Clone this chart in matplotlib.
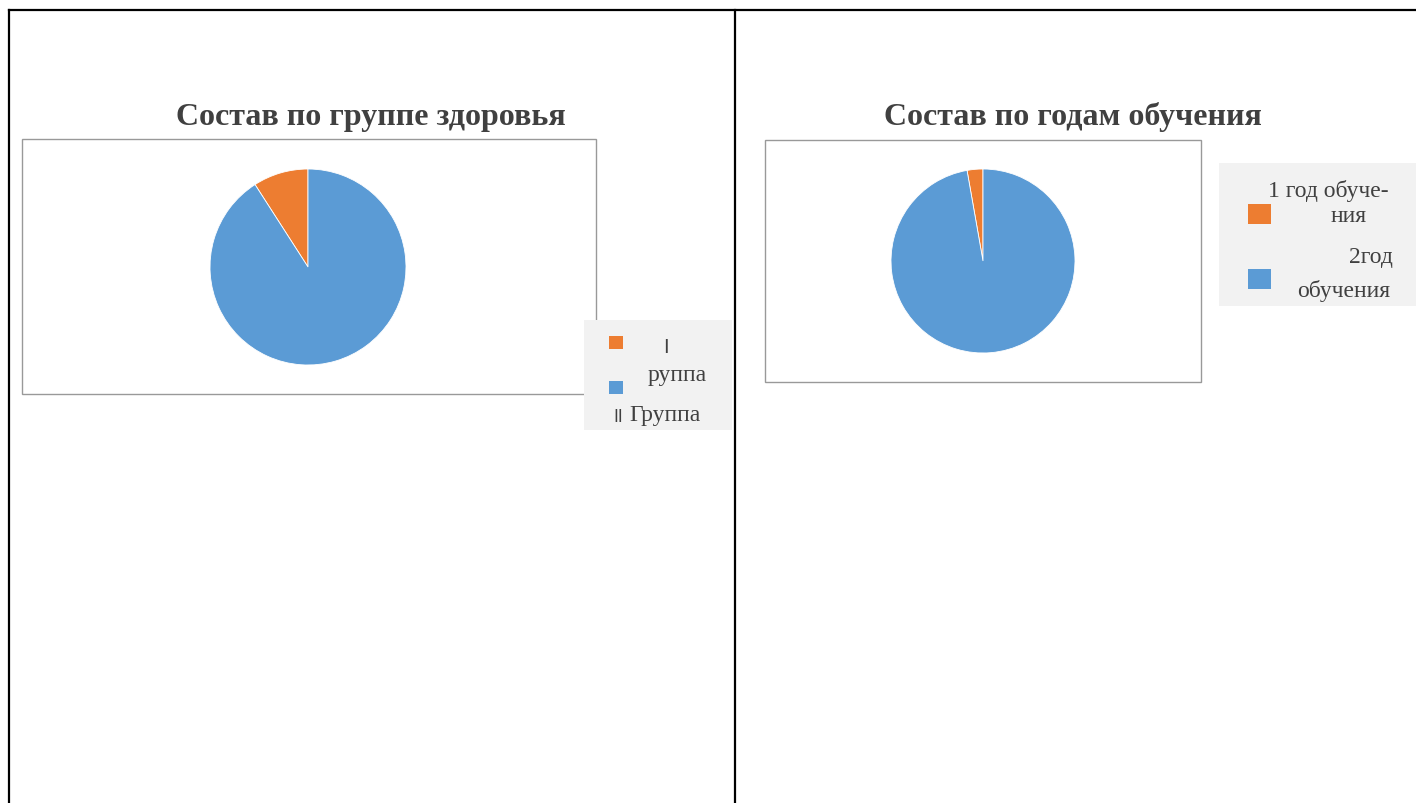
import matplotlib
matplotlib.use("Agg")
import matplotlib.pyplot as plt
from matplotlib.patches import Rectangle
from matplotlib.lines import Line2D

W, H = 1416, 804

# data
health_labels = ["I группа", "II Группа"]
health_values = [3, 30]
years_labels = ["1 год обучения", "2год обучения"]
years_values = [1, 35]
colors = ["#ED7D31", "#5B9BD5"]

title_left = "Состав по группе здоровья"
title_right = "Состав по годам обучения"

SERIF = "Liberation Serif"
TXT = "#404040"

fig = plt.figure(figsize=(W / 100, H / 100), dpi=100)


def fx(x):
    return x / W


def fy(y):
    return 1 - y / H


def box(x0, y0, x1, y1, **kw):
    fig.patches.append(Rectangle((fx(x0), fy(y1)), fx(x1) - fx(x0), fy(y0) - fy(y1),
                                 transform=fig.transFigure, zorder=0.5, **kw))


def pie_axes(cx, cy, r, values):
    ax = fig.add_axes([fx(cx - r), fy(cy + r), fx(2 * r), (2 * r) / H])
    ax.set_zorder(2)
    ax.pie(values, colors=colors, startangle=90, counterclock=True,
           wedgeprops=dict(linewidth=0.6, edgecolor="white"))
    ax.set_xlim(-1, 1)
    ax.set_ylim(-1, 1)
    ax.set_aspect("auto")
    ax.axis("off")
    return ax


# table borders
for (x0, y0, x1, y1) in [(9, 11, W, 11), (9, 11, 9, H), (735, 11, 735, H)]:
    fig.lines.append(Line2D([fx(x0), fx(x1)], [fy(y0), fy(y1)], color="black",
                            linewidth=1.6, transform=fig.transFigure))

# left chart
box(22, 140, 596, 395, facecolor="white", edgecolor="#999999", linewidth=1.0)
fig.text(fx(371), fy(117), title_left, ha="center", va="center", fontsize=23,
         fontweight="bold", family=SERIF, color=TXT)
pie_axes(308, 268, 98, health_values)

box(584, 321, 732, 431, facecolor="#F2F2F2", edgecolor="none")
box(609, 337, 623, 350, facecolor=colors[0], edgecolor="none")
box(609, 382, 623, 395, facecolor=colors[1], edgecolor="none")
lp1 = health_labels[0].split(" ")
fig.text(fx(666), fy(348), lp1[0], ha="center", va="center", fontsize=14,
         family="DejaVu Sans", color=TXT)
fig.text(fx(677), fy(376), lp1[1][1:], ha="center", va="center", fontsize=17,
         family=SERIF, color=TXT)
lp2 = health_labels[1].split(" ")
fig.text(fx(613), fy(417), lp2[0], ha="left", va="center", fontsize=12,
         family="DejaVu Sans", color=TXT)
fig.text(fx(629), fy(416), lp2[1], ha="left", va="center", fontsize=17,
         family=SERIF, color=TXT)

# right chart
box(765, 141, 1201, 383, facecolor="white", edgecolor="#999999", linewidth=1.0)
fig.text(fx(1073), fy(117), title_right, ha="center", va="center", fontsize=23,
         fontweight="bold", family=SERIF, color=TXT)
pie_axes(983, 262, 92, years_values)

box(1219, 164, W, 307, facecolor="#F2F2F2", edgecolor="none")
box(1248, 205, 1271, 225, facecolor=colors[0], edgecolor="none")
box(1248, 270, 1271, 290, facecolor=colors[1], edgecolor="none")
ry1 = years_labels[0].split(" ")
fig.text(fx(1389), fy(191), " ".join(ry1[:2]) + " " + ry1[2][:5] + "-",
         ha="right", va="center", fontsize=17, family=SERIF, color=TXT)
fig.text(fx(1367), fy(217), ry1[2][5:], ha="right", va="center", fontsize=17,
         family=SERIF, color=TXT)
ry2 = years_labels[1].split(" ")
fig.text(fx(1393), fy(258), ry2[0], ha="right", va="center", fontsize=17,
         family=SERIF, color=TXT)
fig.text(fx(1390), fy(291), ry2[1], ha="right", va="center", fontsize=17,
         family=SERIF, color=TXT)

fig.savefig("out.png", dpi=100, facecolor="white")
